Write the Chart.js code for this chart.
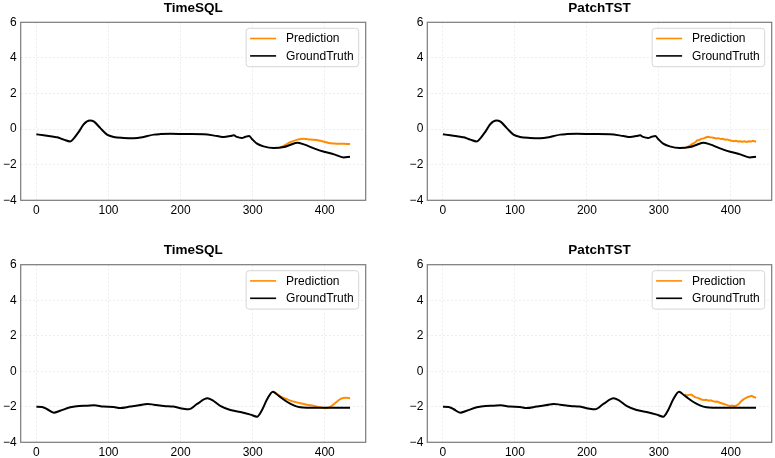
<!DOCTYPE html>
<html><head><meta charset="utf-8">
<script src="https://cdn.jsdelivr.net/npm/chart.js@4"></script>
<style>
html,body{margin:0;padding:0;background:#fff;width:775px;height:458px;overflow:hidden}
canvas{position:absolute;display:block}
</style></head><body>
<canvas id="c0"></canvas><canvas id="c1"></canvas><canvas id="c2"></canvas><canvas id="c3"></canvas>
<script>
// ---- data ----
const titles = ['TimeSQL', 'PatchTST', 'TimeSQL', 'PatchTST'];
const seriesLabels = ['Prediction', 'GroundTruth'];
const xTicks = [0, 100, 200, 300, 400];
const yTicks = [-4, -2, 0, 2, 4, 6];

const gtTopX = [0,10,24,29,38,47,52,59,66,74,80,89,98,107,121,135,147,154,163,172,186,209,232,251,260,269,274,278,285,290,295,299,306,315,329,343,352,362,371,385,399,413,426,435];
const gtTopY = [-0.29,-0.35,-0.43,-0.46,-0.59,-0.69,-0.52,-0.14,0.29,0.48,0.42,0.04,-0.31,-0.44,-0.50,-0.52,-0.46,-0.39,-0.31,-0.28,-0.26,-0.28,-0.29,-0.39,-0.44,-0.39,-0.35,-0.44,-0.50,-0.43,-0.39,-0.56,-0.82,-0.97,-1.06,-1.01,-0.89,-0.76,-0.86,-1.08,-1.27,-1.42,-1.59,-1.55];

const predTimeSQLTopX = [338,343,352,362,371,380,389,399,408,417,426,435];
const predTimeSQLTopY = [-1.03,-0.95,-0.74,-0.59,-0.54,-0.59,-0.61,-0.71,-0.80,-0.82,-0.82,-0.84];

const predPatchTopX = [338,341,344,347,350,353,356,359,362,365,368,371,374,377,380,383,386,389,392,395,398,401,404,407,410,413,416,419,422,425,428,431,435];
const predPatchTopY = [-1.03,-0.97,-0.90,-0.82,-0.76,-0.64,-0.61,-0.55,-0.52,-0.47,-0.43,-0.46,-0.47,-0.50,-0.53,-0.51,-0.56,-0.55,-0.60,-0.58,-0.63,-0.65,-0.68,-0.66,-0.70,-0.68,-0.71,-0.69,-0.72,-0.68,-0.70,-0.66,-0.71];

const gtBotX = [0,8,15,24,33,47,59,70,80,93,107,116,130,142,154,163,177,190,204,211,223,237,244,255,269,283,297,306,313,320,328,332,339,348,357,366,375,435];
const gtBotY = [-2.0,-2.01,-2.14,-2.33,-2.22,-2.03,-1.95,-1.94,-1.92,-1.99,-2.01,-2.07,-1.99,-1.92,-1.84,-1.88,-1.95,-1.99,-2.11,-2.14,-1.84,-1.52,-1.62,-1.95,-2.18,-2.29,-2.44,-2.56,-2.18,-1.58,-1.15,-1.25,-1.47,-1.73,-1.92,-2.03,-2.05,-2.05];

const predTimeSQLBotX = [330,339,348,357,366,375,385,394,401,408,415,422,429,435];
const predTimeSQLBotY = [-1.17,-1.43,-1.58,-1.71,-1.80,-1.88,-1.95,-2.03,-2.08,-1.99,-1.77,-1.56,-1.49,-1.52];

const predPatchBotX = [336,339,342,345,348,351,354,357,360,363,366,369,372,375,378,381,384,387,390,393,396,399,402,405,408,411,414,417,420,423,426,429,432,435];
const predPatchBotY = [-1.30,-1.36,-1.33,-1.31,-1.40,-1.47,-1.50,-1.55,-1.60,-1.62,-1.60,-1.66,-1.63,-1.68,-1.72,-1.70,-1.76,-1.80,-1.84,-1.88,-1.92,-1.95,-1.93,-1.97,-1.93,-1.84,-1.70,-1.60,-1.52,-1.46,-1.42,-1.38,-1.45,-1.50];

// ---- styling / layout ----
const FONT = '"Liberation Sans", Arial, Helvetica, sans-serif';
const ORANGE = '#ff8c00';
const BLACK = '#000000';
const xMin = -21.75, xMax = 456.75;

const panels = [
  {cx:0,   cy:0,   cw:387, ch:229, L:20.7,  R:365.7, T:22.3,  B:200.3, title:titles[0], gx:gtTopX, gy:gtTopY, px:predTimeSQLTopX, py:predTimeSQLTopY, noisy:false},
  {cx:387, cy:0,   cw:388, ch:229, L:427.3, R:771.7, T:22.3,  B:200.3, title:titles[1], gx:gtTopX, gy:gtTopY, px:predPatchTopX,   py:predPatchTopY,   noisy:true},
  {cx:0,   cy:229, cw:387, ch:229, L:20.7,  R:365.7, T:264.7, B:442.3, title:titles[2], gx:gtBotX, gy:gtBotY, px:predTimeSQLBotX, py:predTimeSQLBotY, noisy:false},
  {cx:387, cy:229, cw:388, ch:229, L:427.3, R:771.7, T:264.7, B:442.3, title:titles[3], gx:gtBotX, gy:gtBotY, px:predPatchBotX,   py:predPatchBotY,   noisy:true}
];

const framePlugin = {
  id: 'frame',
  afterDatasetsDraw(chart) {
    const a = chart.chartArea, ctx = chart.ctx;
    ctx.save();
    ctx.strokeStyle = '#7a7a7a';
    ctx.lineWidth = 1.2;
    ctx.strokeRect(a.left, a.top, a.right - a.left, a.bottom - a.top);
    ctx.restore();
  }
};

const legendPlugin = {
  id: 'boxLegend',
  afterDatasetsDraw(chart) {
    const a = chart.chartArea, ctx = chart.ctx;
    const ds = chart.data.datasets.slice().sort((p, q) => p.legendIndex - q.legendIndex);
    ctx.save();
    ctx.font = '12px ' + FONT;
    const tw = Math.max(...ds.map(d => ctx.measureText(d.label).width));
    const w = 4 + 26 + 10 + tw + 5, h = 38.4;
    const x = a.right - 7 - w, y = a.top + 6;
    const r = 3;
    ctx.beginPath();
    ctx.moveTo(x + r, y);
    ctx.lineTo(x + w - r, y); ctx.quadraticCurveTo(x + w, y, x + w, y + r);
    ctx.lineTo(x + w, y + h - r); ctx.quadraticCurveTo(x + w, y + h, x + w - r, y + h);
    ctx.lineTo(x + r, y + h); ctx.quadraticCurveTo(x, y + h, x, y + h - r);
    ctx.lineTo(x, y + r); ctx.quadraticCurveTo(x, y, x + r, y);
    ctx.closePath();
    ctx.fillStyle = 'rgba(255,255,255,0.8)';
    ctx.fill();
    ctx.strokeStyle = '#d6d6d6';
    ctx.lineWidth = 1;
    ctx.stroke();
    ds.forEach((d, i) => {
      const ry = y + 10.2 + i * 17.4;
      ctx.beginPath();
      ctx.moveTo(x + 4, ry);
      ctx.lineTo(x + 30, ry);
      ctx.strokeStyle = d.borderColor;
      ctx.lineWidth = 1.6;
      ctx.stroke();
      ctx.fillStyle = '#000';
      ctx.textBaseline = 'middle';
      ctx.textAlign = 'left';
      ctx.fillText(d.label, x + 40, ry + 0.5);
    });
    ctx.restore();
  }
};

function pts(xs, ys) { return xs.map((x, i) => ({x: x, y: ys[i]})); }

panels.forEach((p, idx) => {
  const cv = document.getElementById('c' + idx);
  cv.width = p.cw; cv.height = p.ch;
  cv.style.left = p.cx + 'px'; cv.style.top = p.cy + 'px';
  cv.style.width = p.cw + 'px'; cv.style.height = p.ch + 'px';
  const titleH = 13.5 * 1.2 + 6;
  const yW = p.L - p.cx;
  const xH = p.cy + p.ch - p.B;
  new Chart(cv, {
    type: 'line',
    data: {
      datasets: [
        {label: seriesLabels[0], legendIndex: 0, order: 1, data: pts(p.px, p.py), borderColor: ORANGE, borderWidth: 2,
         pointRadius: 0, fill: false, tension: p.noisy ? 0 : 0.4, cubicInterpolationMode: p.noisy ? 'default' : 'monotone'},
        {label: seriesLabels[1], legendIndex: 1, order: 0, data: pts(p.gx, p.gy), borderColor: BLACK, borderWidth: 2,
         pointRadius: 0, fill: false, cubicInterpolationMode: 'monotone'}
      ]
    },
    options: {
      responsive: false,
      animation: false,
      devicePixelRatio: window.devicePixelRatio || 1,
      layout: {padding: {left: 0, right: p.cx + p.cw - p.R, top: p.T - p.cy - titleH, bottom: 0}},
      plugins: {
        legend: {display: false},
        tooltip: {enabled: false},
        title: {display: true, text: p.title, fullSize: false, color: '#000',
                font: {family: FONT, size: 13.5, weight: 'bold', lineHeight: 1.2},
                padding: {top: 0, bottom: 6}}
      },
      scales: {
        x: {
          type: 'linear', min: xMin, max: xMax,
          afterBuildTicks: s => { s.ticks = xTicks.map(v => ({value: v})); },
          afterFit: s => { s.height = xH; },
          ticks: {padding: 3, color: '#000', font: {family: FONT, size: 12}, maxRotation: 0, autoSkip: false},
          grid: {color: '#e9e9e9', lineWidth: 0.8, drawTicks: false},
          border: {display: false, dash: [2, 2]}
        },
        y: {
          type: 'linear', min: -4, max: 6,
          afterBuildTicks: s => { s.ticks = yTicks.map(v => ({value: v})); },
          afterFit: s => { s.width = yW; },
          ticks: {padding: 4, color: '#000', font: {family: FONT, size: 12},
                  callback: v => (v < 0 ? '\u2212' + Math.abs(v) : String(v))},
          grid: {color: '#e9e9e9', lineWidth: 0.8, drawTicks: false},
          border: {display: false, dash: [2, 2]}
        }
      }
    },
    plugins: [framePlugin, legendPlugin]
  });
});
</script>
</body></html>
